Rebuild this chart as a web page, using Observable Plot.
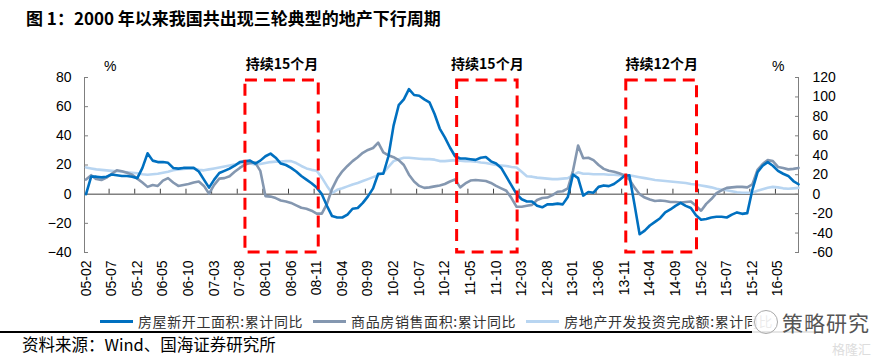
<!DOCTYPE html>
<html><head><meta charset="utf-8">
<script src="https://cdn.jsdelivr.net/npm/d3@7"></script>
<script src="https://cdn.jsdelivr.net/npm/@observablehq/plot@0.6"></script>
<style>
body{margin:0;background:#fff;}
#wrap{position:relative;width:896px;height:360px;overflow:hidden;font-family:"Noto Sans CJK SC",sans-serif;background:#fff;}
#chart{position:absolute;left:0;top:0;}
.title{position:absolute;left:26px;top:5px;font-size:17px;font-weight:bold;color:#000;white-space:nowrap;}
.pct{position:absolute;font-family:"Liberation Sans",Arial,sans-serif;font-size:14px;color:#000;}
.legend{position:absolute;top:311px;left:100px;display:flex;align-items:center;font-size:14px;color:#333;white-space:nowrap;letter-spacing:0.6px;}
.legend .it{display:flex;align-items:center;margin-right:10px;}
.legend .sw{display:inline-block;width:33px;height:3px;margin-right:5px;}
.rule{position:absolute;left:0;top:331px;width:820px;height:1.5px;background:#000;}
.source{position:absolute;left:22px;top:332px;font-size:16.5px;color:#000;white-space:nowrap;}
.wm{position:absolute;left:752px;top:308px;width:124px;height:28px;background:rgba(255,255,255,0.9);display:flex;align-items:center;}
.wm .c{width:22px;height:22px;border:1.5px solid #aaa;border-radius:50%;margin-right:4px;margin-left:2px;}
.wm .t{font-size:21px;line-height:24px;color:#555;letter-spacing:1px;}
.wm2{position:absolute;left:832px;top:341px;font-size:13px;line-height:15px;color:#ddd;}
</style></head>
<body>
<div id="wrap">
  <div id="chart"></div>
  <div class="title">图 1：2000 年以来我国共出现三轮典型的地产下行周期</div>
  <div class="pct" style="left:104px;top:58px;">%</div>
  <div class="pct" style="left:772px;top:58px;">%</div>
  <div class="legend" id="legend"></div>
  <div class="rule"></div>
  <div class="source">资料来源：Wind、国海证券研究所</div>
  <div class="wm"><div class="c"></div><div class="t">策略研究</div></div>
  <div class="wm2">格隆汇</div>
</div>
<script>
// Monthly series from 05-02 to 16-09 (140 months)
// 房屋新开工面积:累计同比 (left axis, %)
const blue = [
 0,12,12,11.5,12,13.5,13,12.5,12.5,12,
 11,18,28,23,22,22,21.5,18,17.5,18,
 18,18,15.5,10,4.5,10,14.5,16,17.5,19.5,
 22,22.5,23,21,23,26,27.8,25,21,20,
 18,15.5,12.5,10,7.5,4.5,0,-8,-15,-16,
 -16,-14,-10,-9.5,-6,-1.5,4,14,14,26,
 47,61,65,72,68,67.5,65,63,55,45,
 39,32,26,24.5,24.5,24,23.5,25,25.5,22.5,
 21,18,12,6,0,-3.5,-5,-5,-8,-9,
 -7,-7,-6.5,-7,-2,13.5,11,-1,1.5,1,
 5,6,5.5,7,9.5,12.5,13,-7,-27.5,-25,
 -21.5,-19,-16.5,-12.5,-10.5,-8,-6,-8,-9.5,-14.5,
 -17.5,-17,-16,-15.5,-15.5,-16,-14,-12.5,-13.5,-13,
 3,15,19.5,22,19.5,16,14,12.5,9,6.8
];
// 商品房销售面积:累计同比 (right axis, %)
const gray = [
 15,19.5,15.5,14.5,17,21,24.5,23.5,22,20,
 16,12,7.5,9.5,8.5,14,16.5,12,8.5,9.5,
 10.5,12,13,8.5,0.5,9.5,16,16.5,18.5,23,
 27,30.5,32,32.5,24,-2,-2.5,-4,-6.5,-7.5,
 -9,-11.5,-14,-15,-17,-20,-20,-10,5.5,16,
 23.5,29,34,38,42.5,45.5,47.5,53,43,40,
 38,35,30,20,13,8.5,6.5,7,8,9,
 10.5,13,15,7,11,14,14.5,14,13.5,11.5,
 8.5,6,3.5,-4,-13,-13,-12,-11,-6,-4,
 -3.5,-1,2.5,3,6,24,50,37,37.5,35,
 30,26,24,23,21.5,19.5,15,7,0,-3.5,
 -5.5,-7,-6.5,-7,-8,-8,-8.5,-8,-7.5,-12,
 -17,-10,-5,1,4,6.5,7,7.5,7.5,7,
 10,25,31,35,34,28,27,25.5,26,27
];
// 房地产开发投资完成额:累计同比 (right axis, %)
const light = [
 27.5,26.5,25.5,25,24.5,24,23.5,23,22.5,22,
 21.5,20.5,20,20.5,21,22,23,24.5,25.5,26,
 26.5,26.5,25,24.5,25.5,26.5,27.5,28.5,29.5,30.5,
 31.5,32.5,31.5,30.5,31,32,33,33.5,33.5,34,
 34,32,29,26.5,25,24,17,8.5,1,4.5,
 6,8,10,11.5,13.5,15.5,17.5,19.5,22,28,
 34,36,37.5,37.5,37,36.5,36,36,35.5,34,
 34,34.5,35,34.5,34,34,33.5,32.5,32,31,
 30,29.5,29,28,27.5,23,18.5,18,17,16.5,
 16,15.5,15.5,16,16.5,19.5,22.5,21,21,20.5,
 20.5,20.5,20,20,19.5,19.5,19.5,18.5,17.5,16.5,
 15.5,14.5,14,13.5,13,12.5,12,11.5,10.5,10,
 9,8,7,5.5,4.5,4,3,2,1.5,1.5,
 1.5,3.5,5,6.5,7.5,7,6,5.5,6,6.5
];
const seriesNames = ["房屋新开工面积:累计同比","商品房销售面积:累计同比","房地产开发投资完成额:累计同比"];
const seriesColors = ["#0070C0","#8497B0","#B8D5F1"];
const tickLabels = ["05-02","05-07","05-12","06-05","06-10","07-03","07-08","08-01","08-06","08-11","09-04","09-09","10-02","10-07","10-12","11-05","11-10","12-03","12-08","13-01","13-06","13-11","14-04","14-09","15-02","15-07","15-12","16-05"];
const leftTicks = [-40,-20,0,20,40,60,80];
const rightTicks = [-60,-40,-20,0,20,40,60,80,100,120];
const boxStart = [31.1, 72.4, 105.4];
const boxEnd = [45.4, 84.2, 119.2];
const boxLabels = ["持续15个月","持续15个月","持续12个月"];
const boxLow = -40, boxHigh = 78;

const ratio = rightTicks[rightTicks.length-1] / leftTicks[leftTicks.length-1]; // 1.5
const n = blue.length;
const data = d3.range(n).map(i => ({i, blue: blue[i], gray: gray[i]/ratio, light: light[i]/ratio}));
const boxes = boxStart.map((s, k) => ({x1: s, x2: boxEnd[k], y1: boxLow, y2: boxHigh, label: boxLabels[k]}));
const xDomain = [-0.3, n - 1];
const xTickPos = d3.range(1, tickLabels.length).map(k => k*5 - 0.5);

const plot = Plot.plot({
  width: 896, height: 300,
  marginTop: 77, marginBottom: 48, marginLeft: 84, marginRight: 98,
  style: {fontFamily: '"Liberation Sans", Arial, sans-serif', fontSize: "14px", color: "#000", background: "transparent"},
  x: {type: "linear", domain: xDomain},
  y: {domain: [leftTicks[0], leftTicks[leftTicks.length-1]]},
  marks: [
    Plot.ruleY([0], {stroke: "#404040", strokeWidth: 1}),
    Plot.ruleX(xTickPos, {y1: () => 0, y2: () => 3.4, stroke: "#404040"}),
    Plot.ruleX(xDomain, {stroke: "#7f7f7f", strokeWidth: 1}),
    Plot.axisY({ticks: leftTicks, anchor: "left", tickSize: -4, tickPadding: 17, stroke: "#7f7f7f", fill: "#000", fontSize: 14}),
    Plot.axisY({ticks: rightTicks.map(v => v/ratio), anchor: "right", tickSize: -4, tickPadding: 18, stroke: "#7f7f7f", fill: "#000", fontSize: 14, tickFormat: d => String(Math.round(d*ratio))}),
    Plot.axisX({ticks: tickLabels.map((_, k) => k*5), tickFormat: d => tickLabels[Math.round(d/5)], tickRotate: -90, tickSize: 0, tickPadding: 8, anchor: "bottom", fill: "#000", fontSize: 14}),
    Plot.line(data, {x: "i", y: "light", stroke: seriesColors[2], strokeWidth: 2.6}),
    Plot.line(data, {x: "i", y: "gray", stroke: seriesColors[1], strokeWidth: 2.6}),
    Plot.line(data, {x: "i", y: "blue", stroke: seriesColors[0], strokeWidth: 2.6}),
    Plot.rect(boxes, {x1: "x1", x2: "x2", y1: "y1", y2: "y2", fill: "none", stroke: "#FF0000", strokeWidth: 3, strokeDasharray: "12,7"}),
    Plot.text(boxes, {x: d => (d.x1 + d.x2)/2, y: "y2", text: "label", dy: -16, fontFamily: '"Noto Sans CJK SC", sans-serif', fontWeight: "bold", fontSize: 14, fill: "#000"})
  ]
});
document.getElementById("chart").appendChild(plot);

const lg = document.getElementById("legend");
seriesNames.forEach((name, k) => {
  const it = document.createElement("div"); it.className = "it";
  const sw = document.createElement("span"); sw.className = "sw"; sw.style.background = seriesColors[k];
  const tx = document.createElement("span"); tx.textContent = name;
  it.appendChild(sw); it.appendChild(tx); lg.appendChild(it);
});
</script>
</body></html>
